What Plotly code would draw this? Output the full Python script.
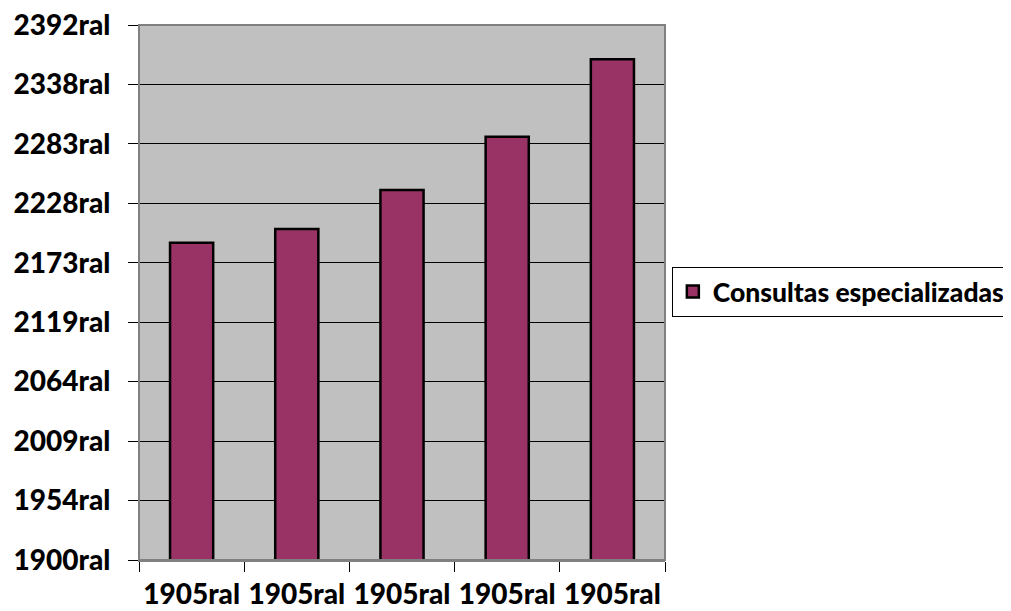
import plotly.graph_objects as go

x_positions = [0, 1, 2, 3, 4]
x_labels = ["1905ral", "1905ral", "1905ral", "1905ral", "1905ral"]
values = [2191.8, 2204.4, 2240.3, 2289.3, 2360.4]
series_name = "Consultas especializadas"
y_tickvals = [1900, 1954.67, 2009.33, 2064, 2118.67, 2173.33, 2228, 2282.67, 2337.33, 2392]
y_ticktext = ["1900ral", "1954ral", "2009ral", "2064ral", "2119ral", "2173ral",
              "2228ral", "2283ral", "2338ral", "2392ral"]

FONT = "Lato"
FS = 28

fig = go.Figure()
fig.add_trace(go.Bar(
    x=x_positions, y=values, name=series_name,
    marker=dict(color="#993366", line=dict(color="black", width=2.5)),
    width=0.41, showlegend=True,
))

fig.update_layout(
    width=1003, height=603,
    margin=dict(l=131, r=346, t=17, b=51, autoexpand=False),
    paper_bgcolor="white", plot_bgcolor="#C0C0C0",
    font=dict(family=FONT, size=FS, color="black"),
    showlegend=True,
    legend=dict(
        x=1.013, y=0.548, xanchor="left", yanchor="top",
        bordercolor="black", borderwidth=1, bgcolor="white",
        font=dict(family=FONT, size=26.5, color="black", weight=900),
        itemwidth=30,
    ),
    shapes=[dict(type="rect", xref="paper", yref="paper", x0=0, y0=0, x1=1, y1=1,
                 line=dict(color="#808080", width=2), layer="above")],
)

fig.update_xaxes(
    range=[-0.5, 4.5], tickvals=x_positions, ticktext=x_labels,
    ticks="", showgrid=False, zeroline=False, automargin=False,
    showline=True, linecolor="#808080", linewidth=2,
    tickfont=dict(family=FONT, size=FS, weight=900),
    ticklabelstandoff=8, ticklabeloverflow="allow",
    minor=dict(tick0=-0.5, dtick=1, ticks="outside", ticklen=10, tickcolor="black", showgrid=False),
)
fig.update_yaxes(
    range=[1900, 2392], tickvals=y_tickvals, ticktext=y_ticktext,
    ticks="outside", ticklen=10, tickcolor="black",
    showgrid=True, gridcolor="black", gridwidth=1, zeroline=False, automargin=False,
    showline=True, linecolor="black", linewidth=1,
    tickfont=dict(family=FONT, size=FS, weight=900),
    ticklabelstandoff=12, ticklabeloverflow="allow",
)

fig.write_html("out.html")
